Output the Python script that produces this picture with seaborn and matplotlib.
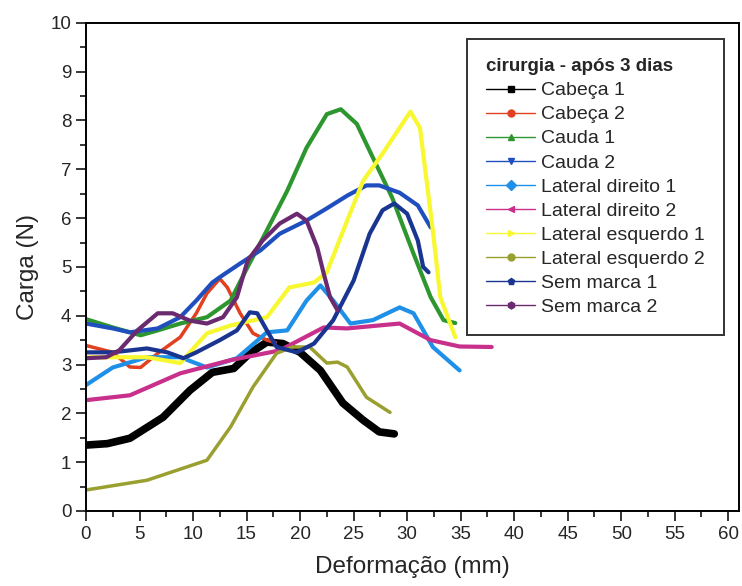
import matplotlib
matplotlib.use('Agg')
import matplotlib.pyplot as plt
from matplotlib.lines import Line2D
from matplotlib.ticker import MultipleLocator
import seaborn as sns

# values (deformation in mm, load in N)
cabeca1_x = [0, 2, 4.1, 7.2, 9.7, 11.8, 13.8, 15.3, 16.9, 18.4, 20.0, 21.9, 24.0, 25.9, 27.4, 28.8]
cabeca1_y = [1.35, 1.38, 1.49, 1.92, 2.47, 2.84, 2.92, 3.23, 3.46, 3.43, 3.25, 2.88, 2.21, 1.86, 1.62, 1.58]

cabeca2_x = [0, 2.5, 4.1, 5.1, 6.7, 8.8, 10.3, 11.3, 12.5, 13.2, 14.4, 15.6, 16.9, 17.7]
cabeca2_y = [3.39, 3.25, 2.95, 2.94, 3.23, 3.56, 4.05, 4.46, 4.76, 4.58, 4.05, 3.64, 3.5, 3.45]

cauda1_x = [0, 2.5, 5.1, 6.7, 8.8, 11.3, 13.5, 15.1, 16.9, 18.8, 20.6, 22.5, 23.8, 25.3, 26.8, 28.6, 30.6, 32.2, 33.4, 34.5]
cauda1_y = [3.93, 3.76, 3.6, 3.7, 3.84, 3.97, 4.31, 5.0, 5.75, 6.56, 7.44, 8.13, 8.23, 7.93, 7.24, 6.42, 5.27, 4.38, 3.91, 3.85]

cauda2_x = [0, 2.5, 4.1, 6.7, 8.8, 10.3, 11.8, 12.5, 14.4, 16.3, 18.1, 20.6, 22.5, 24.4, 26.2, 27.4, 29.3, 31.0, 32.2]
cauda2_y = [3.84, 3.74, 3.66, 3.74, 3.97, 4.31, 4.68, 4.79, 5.07, 5.34, 5.68, 5.95, 6.2, 6.46, 6.67, 6.67, 6.52, 6.26, 5.81]

latdir1_x = [0, 2.5, 5.7, 8.8, 11.3, 14.1, 16.9, 18.8, 20.6, 21.9, 23.1, 24.7, 26.8, 29.3, 30.6, 32.4, 34.9]
latdir1_y = [2.58, 2.94, 3.15, 3.15, 2.94, 3.13, 3.66, 3.7, 4.31, 4.62, 4.31, 3.84, 3.91, 4.17, 4.05, 3.36, 2.88]

latdir2_x = [0, 4.1, 8.8, 13.5, 18.1, 22.2, 24.4, 29.3, 32.2, 34.9, 37.9]
latdir2_y = [2.27, 2.37, 2.82, 3.09, 3.29, 3.76, 3.74, 3.84, 3.5, 3.37, 3.36]

latesq1_x = [0, 5.7, 8.8, 11.3, 13.5, 16.9, 19.0, 21.3, 22.5, 24.4, 25.9, 27.7, 30.3, 31.2, 32.4, 33.1, 34.5]
latesq1_y = [3.15, 3.15, 3.03, 3.64, 3.8, 3.97, 4.58, 4.68, 4.89, 5.95, 6.77, 7.32, 8.18, 7.85, 5.75, 4.38, 3.56]

latesq2_x = [0, 5.7, 11.3, 13.5, 15.6, 17.8, 19.3, 20.9, 22.5, 23.5, 24.4, 26.2, 28.4]
latesq2_y = [0.43, 0.63, 1.04, 1.72, 2.54, 3.23, 3.36, 3.36, 3.03, 3.05, 2.95, 2.33, 2.02]

semmarca1_x = [0, 2.5, 5.7, 7.6, 9.1, 10.3, 12.5, 14.1, 15.3, 16.0, 16.9, 17.8, 19.7, 21.3, 23.1, 25.0, 26.5, 27.7, 28.8, 30.0, 31.0, 31.5, 32.0]
semmarca1_y = [3.25, 3.25, 3.33, 3.25, 3.13, 3.25, 3.5, 3.7, 4.07, 4.05, 3.7, 3.36, 3.25, 3.43, 3.91, 4.72, 5.68, 6.16, 6.3, 6.09, 5.54, 5.0, 4.89]

semmarca2_x = [0, 1.9, 3.1, 4.8, 6.7, 8.1, 9.7, 11.3, 12.8, 14.1, 15.1, 16.5, 18.1, 19.7, 20.6, 21.6, 22.2, 22.8, 23.5]
semmarca2_y = [3.13, 3.15, 3.29, 3.7, 4.05, 4.05, 3.9, 3.84, 3.97, 4.38, 5.13, 5.54, 5.89, 6.09, 5.95, 5.4, 4.87, 4.38, 4.11]

labels = ['Cabeça 1', 'Cabeça 2', 'Cauda 1', 'Cauda 2', 'Lateral direito 1',
          'Lateral direito 2', 'Lateral esquerdo 1', 'Lateral esquerdo 2',
          'Sem marca 1', 'Sem marca 2']

series = [(cabeca1_x, cabeca1_y), (cabeca2_x, cabeca2_y), (cauda1_x, cauda1_y),
          (cauda2_x, cauda2_y), (latdir1_x, latdir1_y), (latdir2_x, latdir2_y),
          (latesq1_x, latesq1_y), (latesq2_x, latesq2_y),
          (semmarca1_x, semmarca1_y), (semmarca2_x, semmarca2_y)]

colors = ['#000000', '#e2401e', '#2e962e', '#1f4fbf', '#1e90e8',
          '#c8308c', '#f8f830', '#9aa030', '#1a3590', '#6a2a70']
markers = ['s', 'o', '^', 'v', 'D', '<', '>', 'o', 'p', 'h']
widths = [5.5, 2.5, 3, 3, 3, 3, 3, 2.5, 3, 3]

sns.set_style('ticks')
plt.rcParams['font.family'] = ['Liberation Sans', 'DejaVu Sans']

fig = plt.figure(figsize=(7.42, 5.86), dpi=100)
ax = fig.add_axes([0.1159, 0.128, 0.880, 0.833])

for (xs, ys), c, w in zip(series, colors, widths):
    sns.lineplot(x=xs, y=ys, color=c, lw=w, sort=False, ax=ax, legend=False,
                 solid_capstyle='round', solid_joinstyle='round')

ax.set_xlim(0, 61)
ax.set_ylim(0, 10)
ax.xaxis.set_major_locator(MultipleLocator(5))
ax.xaxis.set_minor_locator(MultipleLocator(2.5))
ax.yaxis.set_major_locator(MultipleLocator(1))
ax.yaxis.set_minor_locator(MultipleLocator(0.5))
ax.tick_params(which='major', direction='out', length=7, width=1.3, labelsize=13.5)
ax.tick_params(which='minor', direction='out', length=4, width=1.3)
for s in ax.spines.values():
    s.set_color('black')
    s.set_linewidth(1.4)

ax.set_xlabel('Deformação (mm)', fontsize=17.5, labelpad=10)
ax.set_ylabel('Carga (N)', fontsize=17.5, labelpad=8)

handles = [Line2D([], [], color=c, lw=1, marker=m, markersize=5)
           for c, m in zip(colors, markers)]
leg = ax.legend(handles, labels, title='cirurgia - após 3 dias', loc='upper right',
                bbox_to_anchor=(0.977, 0.967), fontsize=14, title_fontsize=13.5,
                frameon=True, fancybox=False, edgecolor='black', handlelength=2.5,
                labelspacing=0.33, borderpad=1.0, handletextpad=0.3,
                borderaxespad=0)
leg.get_frame().set_linewidth(1.4)
leg._legend_box.align = 'left'
leg.get_title().set_fontweight('bold')

fig.savefig('out.png', dpi=100)
